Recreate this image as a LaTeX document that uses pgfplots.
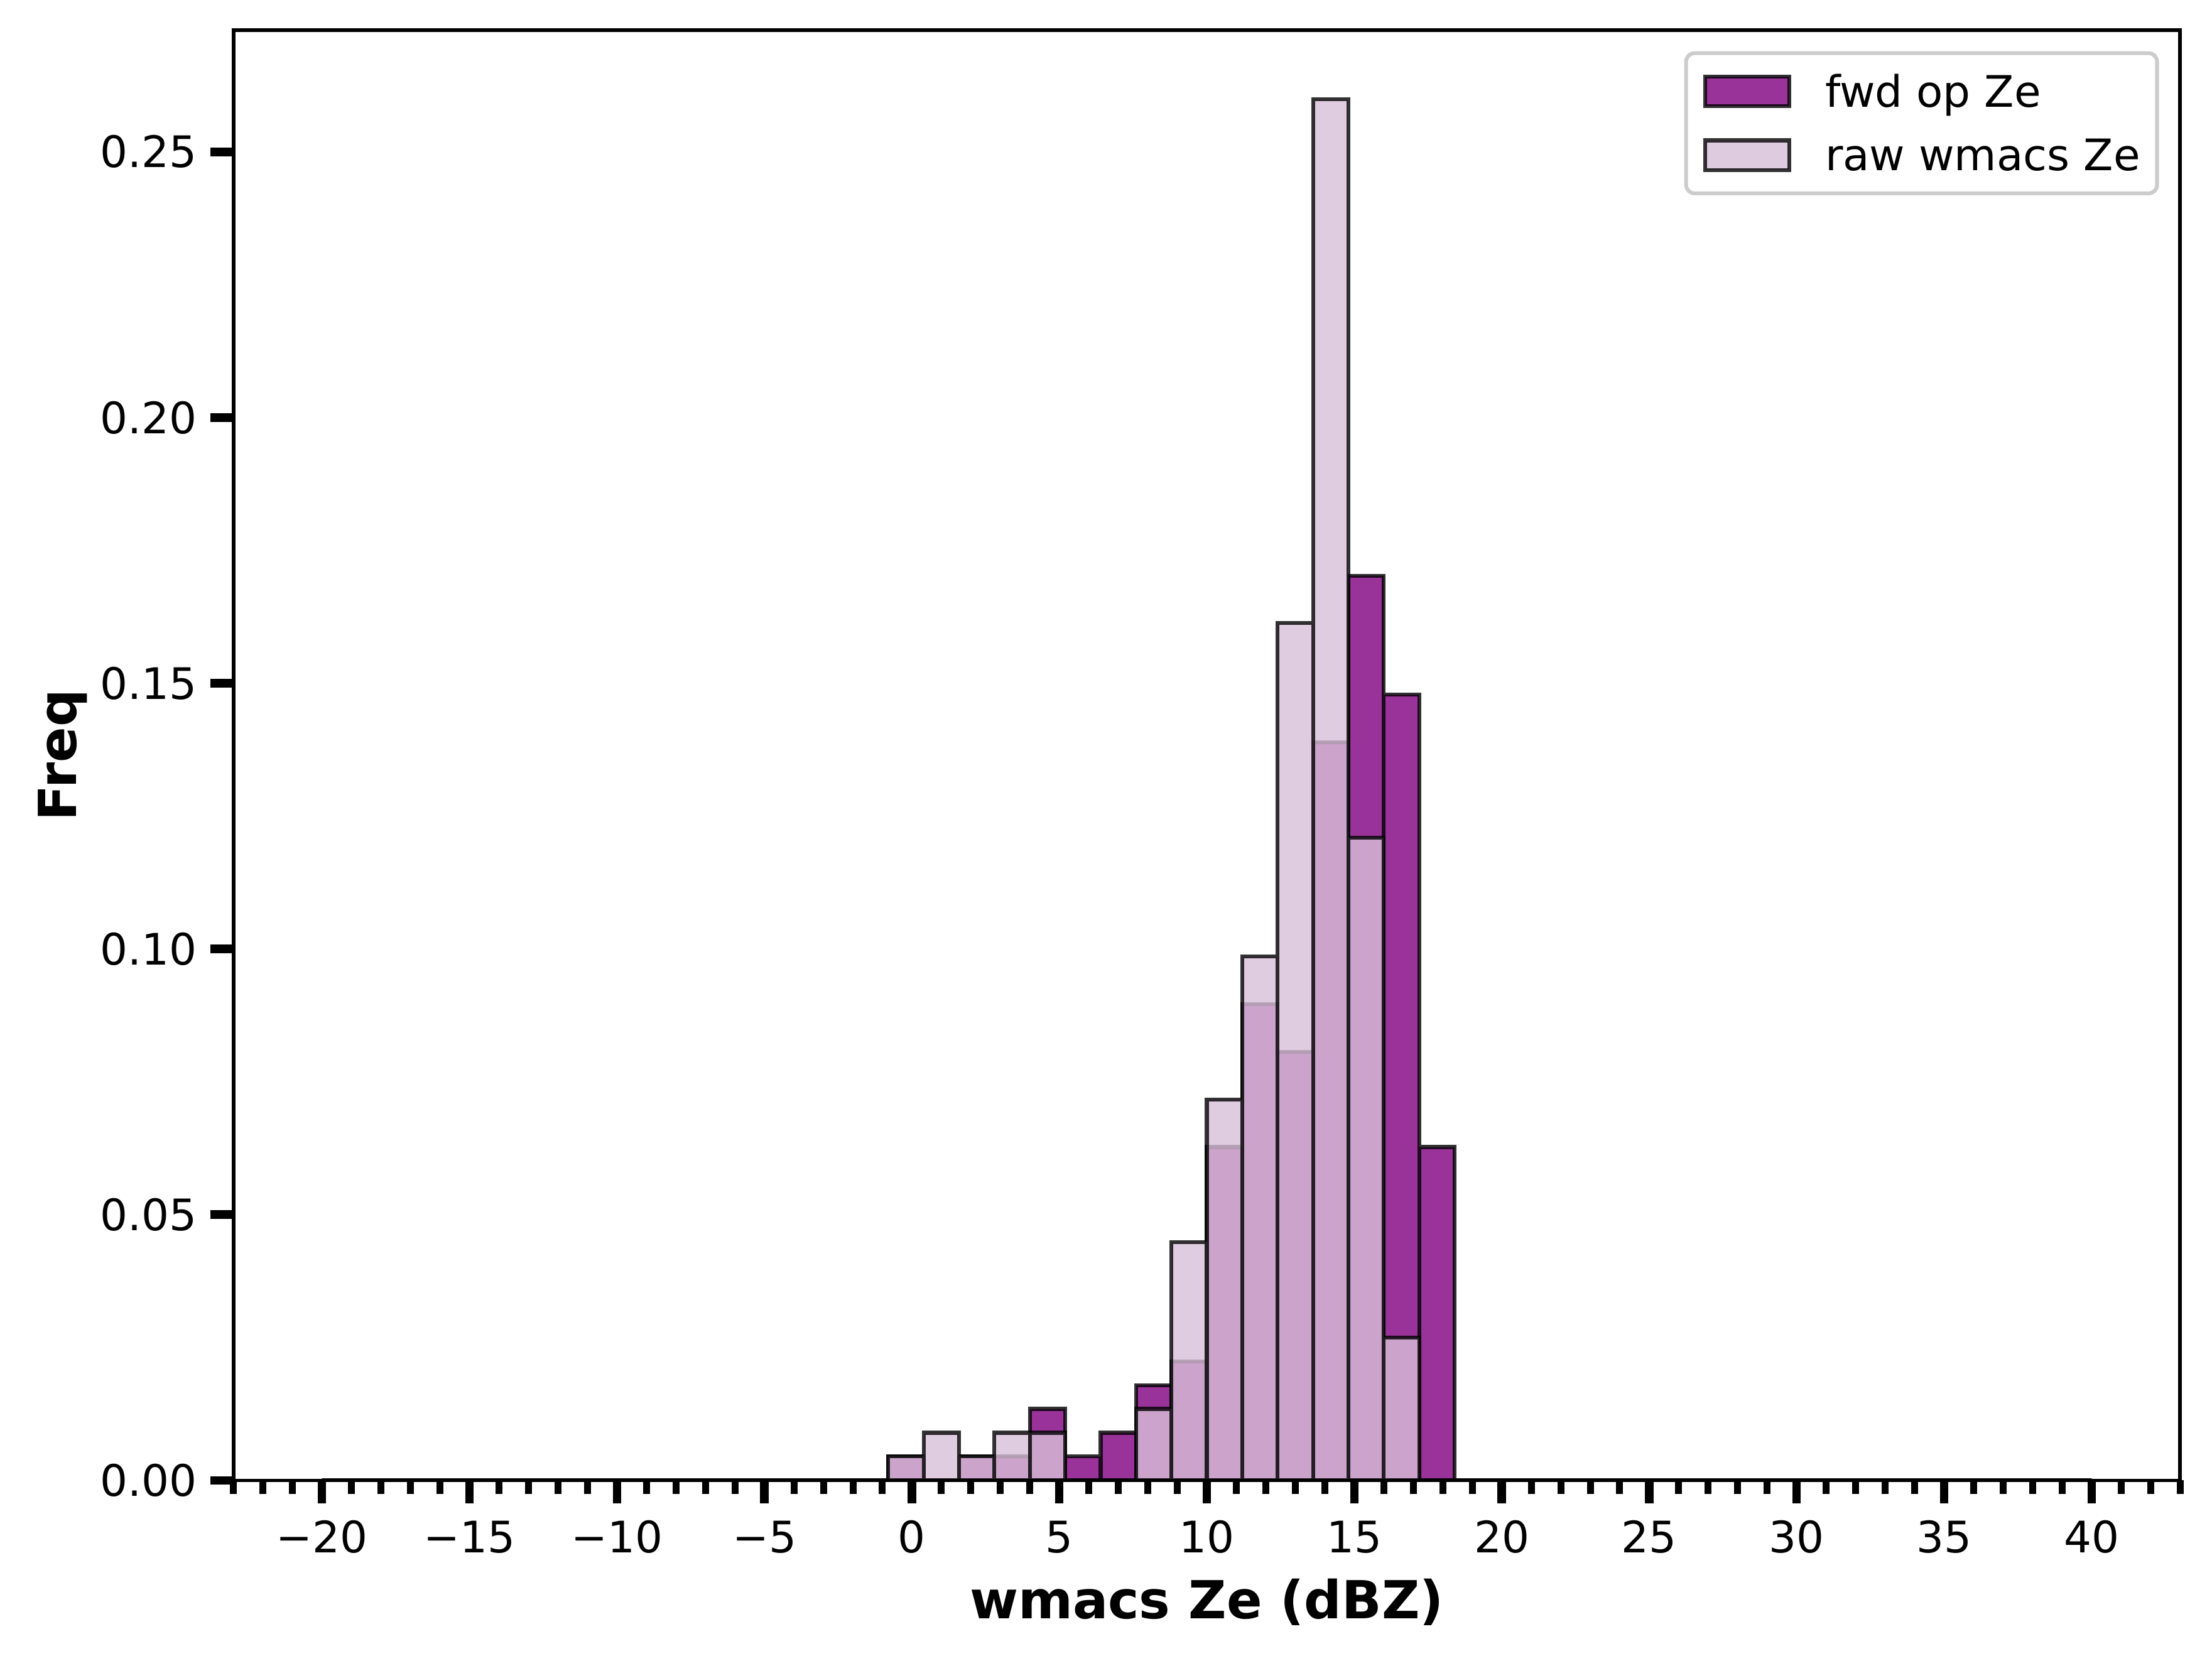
\documentclass[border=0pt]{standalone}
\usepackage{fontspec}
\setmainfont{DejaVu Sans}
\usepackage{pgfplots}
\pgfplotsset{compat=1.18}
\usepackage{pgfplotstable}
\definecolor{mplpurple}{RGB}{128,0,128}
\definecolor{mplthistle}{RGB}{216,191,216}
\definecolor{legendgray}{RGB}{204,204,204}

% histogram (density), bins of width 1.2 from -20 to 40; last row closes the interval
\pgfplotstableread{
x      fwd      raw
-20.0  0        0
-18.8  0        0
-17.6  0        0
-16.4  0        0
-15.2  0        0
-14.0  0        0
-12.8  0        0
-11.6  0        0
-10.4  0        0
-9.2   0        0
-8.0   0        0
-6.8   0        0
-5.6   0        0
-4.4   0        0
-3.2   0        0
-2.0   0        0
-0.8   0.00448  0.00448
0.4    0        0.00896
1.6    0.00448  0.00448
2.8    0.00448  0.00896
4.0    0.01344  0.00896
5.2    0.00448  0
6.4    0.00896  0
7.6    0.01792  0.01344
8.8    0.02240  0.04480
10.0   0.06272  0.07168
11.2   0.08961  0.09857
12.4   0.08065  0.16129
13.6   0.13889  0.25986
14.8   0.17025  0.12097
16.0   0.14785  0.02688
17.2   0.06272  0
18.4   0        0
19.6   0        0
20.8   0        0
22.0   0        0
23.2   0        0
24.4   0        0
25.6   0        0
26.8   0        0
28.0   0        0
29.2   0        0
30.4   0        0
31.6   0        0
32.8   0        0
34.0   0        0
35.2   0        0
36.4   0        0
37.6   0        0
38.8   0        0
40.0   0        0
}\histdata

\begin{document}
\begin{tikzpicture}
\begin{axis}[
  scale only axis,
  width=506.8bp, height=377.6bp,
  xmin=-23, xmax=43, ymin=0, ymax=0.2729,
  axis on top,
  axis line style={line width=0.9bp, black},
  tick align=outside,
  xtick pos=bottom, ytick pos=left,
  xtick={-20,-15,-10,-5,0,5,10,15,20,25,30,35,40},
  xticklabels={−20,−15,−10,−5,0,5,10,15,20,25,30,35,40},
  minor xtick={-23,-22,...,43},
  ytick={0,0.05,0.1,0.15,0.2,0.25},
  yticklabels={0.00,0.05,0.10,0.15,0.20,0.25},
  scaled y ticks=false,
  major tick length=6bp, minor tick length=3.6bp,
  every major tick/.append style={line width=2.2bp, black},
  every minor tick/.append style={line width=1.8bp, black},
  tick label style={font=\fontsize{11.35}{13.5}\selectfont},
  xticklabel style={yshift=-1bp},
  xlabel={wmacs Ze (dBZ)}, ylabel={Freq},
  label style={font=\fontsize{13.7}{16.5}\selectfont\bfseries},
  xlabel style={at={(axis description cs:0.5,-0.0953)}, anchor=base},
  ylabel style={at={(axis description cs:-0.0809,0.5)}, anchor=base},
  legend cell align=left,
  legend style={at={(axis description cs:1,1)}, anchor=north east,
    xshift=-5.5bp, yshift=-5.5bp, draw=legendgray, line width=1bp,
    rounded corners=2.2bp, fill=white,
    font=\fontsize{11.35}{13.5}\selectfont,
    inner xsep=4.4bp, inner ysep=4.45bp, row sep=5.6bp, column sep=8.8bp,
    nodes={inner sep=0pt, text height=9.5bp, text depth=1.5bp}},
  legend image code/.code={\draw[#1, sharp corners, line width=1bp] (0bp,-3.85bp) rectangle (22bp,3.85bp);},
]
\addplot[ybar interval, fill=mplpurple, fill opacity=0.8, draw=black, draw opacity=0.8, line width=1bp]
  table[x=x, y=fwd] {\histdata};
\addlegendentry{fwd op Ze}
\addplot[ybar interval, fill=mplthistle, fill opacity=0.8, draw=black, draw opacity=0.8, line width=1bp]
  table[x=x, y=raw] {\histdata};
\addlegendentry{raw wmacs Ze}
\end{axis}
\path (current axis.south west) ++(-60.8bp,-46.9bp) coordinate (bbA);
\path (current axis.north east) ++(8.3bp,7.85bp) coordinate (bbB);
\path (bbA) rectangle (bbB);
\end{tikzpicture}
\end{document}
